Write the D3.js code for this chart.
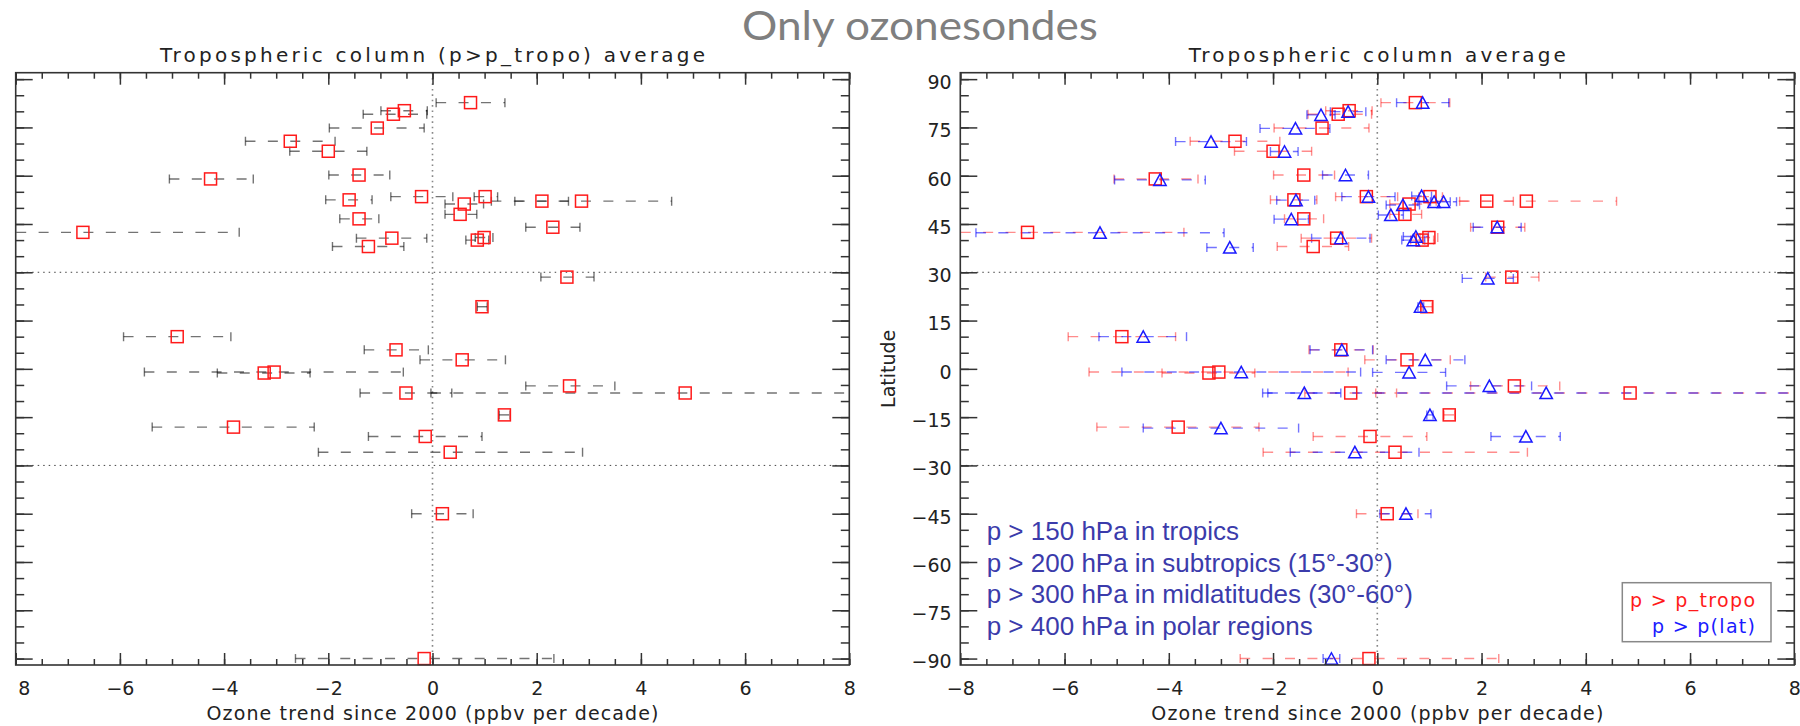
<!DOCTYPE html>
<html>
<head>
<meta charset="utf-8">
<script src="https://cdn.jsdelivr.net/npm/d3@7"></script>
<style>
  body { margin: 0; background: #fff; }
  svg text { font-family: "DejaVu Sans", sans-serif; }
</style>
</head>
<body>
<svg id="chart" width="1800" height="726"></svg>
<script>
// --- DATA: [latitude, trend, lower, upper] (ppbv per decade) ---

// p > p_tropo (red squares, same stations in both panels)
const tropoPoints = [
  [82.7, 0.73, 0.07, 1.39],
  [80.2, -0.54, -0.99, -0.10],
  [79.1, -0.75, -1.33, -0.11],
  [74.8, -1.06, -1.98, -0.16],
  [70.7, -2.73, -3.59, -1.87],
  [67.6, -2.00, -2.74, -1.26],
  [60.2, -1.41, -1.99, -0.82],
  [59.0, -4.26, -5.05, -3.44],
  [53.5, -0.21, -0.80, 0.39],
  [53.5, 1.01, 0.80, 1.25],
  [52.5, -1.60, -2.05, -1.16],
  [52.1, 2.10, 1.58, 2.61],
  [52.1, 2.86, 1.13, 4.59],
  [51.2, 0.61, 0.24, 0.98],
  [48.0, 0.53, 0.24, 0.85],
  [46.6, -1.41, -1.78, -1.03],
  [44.0, 2.31, 1.79, 2.83],
  [42.4, -6.71, -9.71, -3.71],
  [40.8, 0.99, 0.82, 1.16],
  [40.0, 0.86, 0.64, 1.08],
  [40.6, -0.78, -1.46, -0.11],
  [38.0, -1.23, -1.92, -0.55],
  [28.5, 2.58, 2.08, 3.10],
  [19.3, 0.95, 0.86, 1.05],
  [10.0, -4.90, -5.93, -3.87],
  [5.9, -0.70, -1.31, -0.08],
  [2.8, 0.57, -0.24, 1.40],
  [-1.0, -3.04, -5.53, -0.56],
  [-1.3, -3.23, -4.13, -2.35],
  [-5.3, 2.63, 1.79, 3.50],
  [-7.5, -0.51, -1.39, 0.37],
  [-7.5, 4.85, -0.03, 9.73],
  [-14.3, 1.38, 1.28, 1.49],
  [-18.1, -3.82, -5.38, -2.27],
  [-21.0, -0.14, -1.23, 0.95],
  [-25.9, 0.34, -2.19, 2.88],
  [-45.0, 0.19, -0.40, 0.78],
  [-90.0, -0.16, -2.63, 2.33]
];

// p > p(lat) (blue triangles, right panel only)
const latPoints = [
  [82.7, 0.87, 0.37, 1.37],
  [79.9, -0.56, -0.90, -0.22],
  [78.9, -1.08, -1.35, -0.81],
  [74.7, -1.57, -2.25, -0.91],
  [70.6, -3.19, -3.87, -2.51],
  [67.5, -1.78, -2.05, -1.52],
  [60.2, -0.61, -1.05, -0.17],
  [58.7, -4.17, -5.04, -3.30],
  [53.7, 0.85, 0.66, 1.04],
  [53.5, -0.17, -0.68, 0.34],
  [52.4, -1.56, -1.93, -1.20],
  [51.9, 1.09, 0.78, 1.40],
  [51.9, 1.27, 1.02, 1.52],
  [50.9, 0.49, 0.17, 0.81],
  [47.8, 0.26, 0.02, 0.50],
  [46.5, -1.65, -1.98, -1.32],
  [44.0, 2.30, 1.84, 2.76],
  [42.3, -5.32, -7.70, -2.94],
  [41.1, 0.74, 0.50, 0.98],
  [40.6, -0.70, -1.26, -0.14],
  [40.0, 0.69, 0.47, 0.91],
  [37.7, -2.83, -3.27, -2.38],
  [28.1, 2.12, 1.63, 2.61],
  [19.3, 0.83, 0.78, 0.89],
  [10.0, -4.49, -5.34, -3.66],
  [5.9, -0.68, -1.29, -0.09],
  [2.8, 0.92, 0.17, 1.68],
  [-1.0, -2.61, -4.90, -0.32],
  [-1.1, 0.61, -0.09, 1.31],
  [-5.3, 2.15, 1.33, 2.96],
  [-7.5, -1.40, -2.10, -0.70],
  [-7.5, 3.24, -2.20, 8.68],
  [-14.3, 1.01, 0.95, 1.07],
  [-18.4, -3.00, -4.49, -1.51],
  [-21.0, 2.85, 2.18, 3.51],
  [-25.9, -0.43, -1.67, 0.80],
  [-45.0, 0.55, 0.05, 1.03],
  [-90.0, -0.88, -1.04, -0.72]
];

const xTicks = [-8, -6, -4, -2, 0, 2, 4, 6, 8];
const leftXLabels = ["8", "−6", "−4", "−2", "0", "2", "4", "6", "8"];
const rightXLabels = ["−8", "−6", "−4", "−2", "0", "2", "4", "6", "8"];
const yTicks = [-90, -75, -60, -45, -30, -15, 0, 15, 30, 45, 60, 75, 90];
const yLabels = ["−90", "−75", "−60", "−45", "−30", "−15", "0", "15", "30", "45", "60", "75", "90"];
const boundaryLats = [30, -30];
const regionNotes = [
  "p > 150 hPa in tropics",
  "p > 200 hPa in subtropics (15°-30°)",
  "p > 300 hPa in midlatitudes (30°-60°)",
  "p > 400 hPa in polar regions"
];
const legendLabels = ["p > p_tropo", "p > p(lat)"];

// --- LAYOUT ---
const svg = d3.select("#chart");
const plotTop = 72.7, plotBottom = 665;
const axisColor = "#333";

svg.append("text")
  .attr("x", 742).attr("y", 40)
  .attr("textLength", 356).attr("lengthAdjust", "spacingAndGlyphs")
  .style("font-family", "Lato, 'Open Sans', sans-serif")
  .style("font-size", "40px")
  .attr("fill", "#7f7f7f")
  .text("Only ozonesondes");

const panels = [
  { x0: 15.7, x1: 849.3, title: "Tropospheric column (p>p_tropo) average", titleLen: 545,
    xLabels: leftXLabels, showY: false,
    series: [{ data: tropoPoints, bar: "rgba(0,0,0,0.55)", mark: "square" }] },
  { x0: 960.3, x1: 1794.3, title: "Tropospheric column average", titleLen: 377,
    xLabels: rightXLabels, showY: true,
    series: [{ data: tropoPoints, bar: "rgba(255,0,0,0.45)", mark: "square" },
             { data: latPoints, bar: "rgba(0,0,255,0.55)", mark: "triangle" }] }
];

panels.forEach((p, pi) => {
  const x = d3.scaleLinear().domain([-8, 8]).range([p.x0, p.x1]);
  const y = d3.scaleLinear().domain([-92, 92]).range([plotBottom, plotTop]);
  const g = svg.append("g");

  const clipId = "clip" + pi;
  svg.append("clipPath").attr("id", clipId)
    .append("rect")
    .attr("x", p.x0).attr("y", plotTop)
    .attr("width", p.x1 - p.x0).attr("height", plotBottom - plotTop);

  // dotted reference lines
  g.selectAll(".hdot").data(boundaryLats).enter().append("line")
    .attr("x1", p.x0).attr("x2", p.x1)
    .attr("y1", d => y(d)).attr("y2", d => y(d))
    .attr("stroke", "#444").attr("stroke-width", 1)
    .attr("stroke-dasharray", "1.5,4");
  g.append("line")
    .attr("x1", x(0)).attr("x2", x(0))
    .attr("y1", plotTop).attr("y2", plotBottom)
    .attr("stroke", "#888").attr("stroke-width", 1.6)
    .attr("stroke-dasharray", "1.6,3.8");

  // error bars
  const bars = g.append("g").attr("clip-path", `url(#${clipId})`);
  p.series.forEach(s => {
    const sg = bars.append("g").attr("stroke", s.bar).attr("stroke-width", 1.4).attr("fill", "none");
    sg.selectAll(".bar").data(s.data).enter().append("line")
      .attr("x1", d => x(d[2])).attr("x2", d => x(d[3]))
      .attr("y1", d => y(d[0])).attr("y2", d => y(d[0]))
      .attr("stroke-dasharray", "10,12.4");
    sg.selectAll(".capLo").data(s.data).enter().append("line")
      .attr("x1", d => x(d[2])).attr("x2", d => x(d[2]))
      .attr("y1", d => y(d[0]) - 4.5).attr("y2", d => y(d[0]) + 4.5);
    sg.selectAll(".capHi").data(s.data).enter().append("line")
      .attr("x1", d => x(d[3])).attr("x2", d => x(d[3]))
      .attr("y1", d => y(d[0]) - 4.5).attr("y2", d => y(d[0]) + 4.5);
  });

  // markers
  p.series.forEach(s => {
    if (s.mark === "square") {
      g.selectAll(".sq" + pi).data(s.data).enter().append("rect")
        .attr("x", d => x(d[1]) - 6).attr("y", d => y(d[0]) - 6)
        .attr("width", 12).attr("height", 12)
        .attr("fill", "none").attr("stroke", "#ff1a1a").attr("stroke-width", 1.5);
    } else {
      g.selectAll(".tri" + pi).data(s.data).enter().append("path")
        .attr("d", d => {
          const cx = x(d[1]), cy = y(d[0]);
          return `M${cx},${cy - 5.8}L${cx + 6.2},${cy + 5.6}L${cx - 6.2},${cy + 5.6}Z`;
        })
        .attr("fill", "none").attr("stroke", "#1a1aff").attr("stroke-width", 1.5);
    }
  });

  // axes
  const styleAxis = sel => {
    sel.select(".domain").remove();
    sel.selectAll("line").attr("stroke", axisColor).attr("stroke-width", 1.5);
    sel.selectAll("text").attr("fill", "#222").style("font-size", "19px")
      .style("font-family", "'DejaVu Sans', sans-serif");
  };
  const minorX = d3.range(-8, 8.001, 0.5);
  const minorY = d3.range(-90, 90.001, 5);

  g.append("g").attr("transform", `translate(0,${plotBottom})`)
    .call(d3.axisBottom(x).tickValues(minorX).tickSize(-6).tickFormat(""))
    .call(styleAxis);
  const xb = g.append("g").attr("transform", `translate(0,${plotBottom})`)
    .call(d3.axisBottom(x).tickValues(xTicks).tickSize(-12).tickPadding(16.5)
      .tickFormat((d, i) => p.xLabels[i]))
    .call(styleAxis);
  if (!p.showY) {
    // first label is cropped to "8" in the original figure
    xb.selectAll(".tick text").filter((d, i) => i === 0)
      .attr("text-anchor", "start").attr("dx", 2);
  }
  g.append("g").attr("transform", `translate(0,${plotTop})`)
    .call(d3.axisTop(x).tickValues(minorX).tickSize(-6).tickFormat(""))
    .call(styleAxis);
  g.append("g").attr("transform", `translate(0,${plotTop})`)
    .call(d3.axisTop(x).tickValues(xTicks).tickSize(-12).tickFormat(""))
    .call(styleAxis);

  g.append("g").attr("transform", `translate(${p.x0},0)`)
    .call(d3.axisLeft(y).tickValues(minorY).tickSize(-8.5).tickFormat(""))
    .call(styleAxis);
  const yl = g.append("g").attr("transform", `translate(${p.x0},0)`)
    .call(d3.axisLeft(y).tickValues(yTicks).tickSize(-17).tickPadding(8.6)
      .tickFormat((d, i) => p.showY ? yLabels[i] : ""))
    .call(styleAxis);
  yl.selectAll(".tick text").attr("dy", "0.49em");
  g.append("g").attr("transform", `translate(${p.x1},0)`)
    .call(d3.axisRight(y).tickValues(minorY).tickSize(-8.5).tickFormat(""))
    .call(styleAxis);
  g.append("g").attr("transform", `translate(${p.x1},0)`)
    .call(d3.axisRight(y).tickValues(yTicks).tickSize(-17).tickFormat(""))
    .call(styleAxis);

  // frame
  g.append("rect")
    .attr("x", p.x0).attr("y", plotTop)
    .attr("width", p.x1 - p.x0).attr("height", plotBottom - plotTop)
    .attr("fill", "none").attr("stroke", axisColor).attr("stroke-width", 1.6);

  // titles and axis labels
  const cx = (p.x0 + p.x1) / 2;
  g.append("text")
    .attr("x", cx).attr("y", 62).attr("text-anchor", "middle")
    .attr("textLength", p.titleLen).attr("lengthAdjust", "spacing")
    .attr("fill", "#222").style("font-size", "20px")
    .text(p.title);
  g.append("text")
    .attr("x", cx).attr("y", 720).attr("text-anchor", "middle")
    .attr("textLength", 452).attr("lengthAdjust", "spacing")
    .attr("fill", "#222").style("font-size", "19px")
    .text("Ozone trend since 2000 (ppbv per decade)");

  if (p.showY) {
    g.append("text")
      .attr("transform", `translate(895,${y(0)}) rotate(-90)`)
      .attr("text-anchor", "middle")
      .attr("fill", "#222").style("font-size", "19px")
      .text("Latitude");

    // region notes
    g.selectAll(".note").data(regionNotes).enter().append("text")
      .attr("x", 986.7)
      .attr("y", (d, i) => 540 + i * 31.7)
      .style("font-family", "'Liberation Sans', Arial, sans-serif")
      .style("font-size", "26px")
      .attr("fill", "#3b3bab")
      .text(d => d);

    // legend
    const lg = g.append("g");
    lg.append("rect")
      .attr("x", 1622.3).attr("y", 582.7).attr("width", 148.7).attr("height", 59)
      .attr("fill", "#fff").attr("stroke", "#888").attr("stroke-width", 1.5);
    const legendColors = ["#ff1a1a", "#1a1aff"];
    const legendLens = [125, 103];
    lg.selectAll(".leg").data(legendLabels).enter().append("text")
      .attr("x", 1755).attr("y", (d, i) => 606.7 + i * 26)
      .attr("text-anchor", "end")
      .attr("textLength", (d, i) => legendLens[i]).attr("lengthAdjust", "spacing")
      .attr("fill", (d, i) => legendColors[i])
      .style("font-size", "19px")
      .text(d => d);
  }
});
</script>
</body>
</html>
